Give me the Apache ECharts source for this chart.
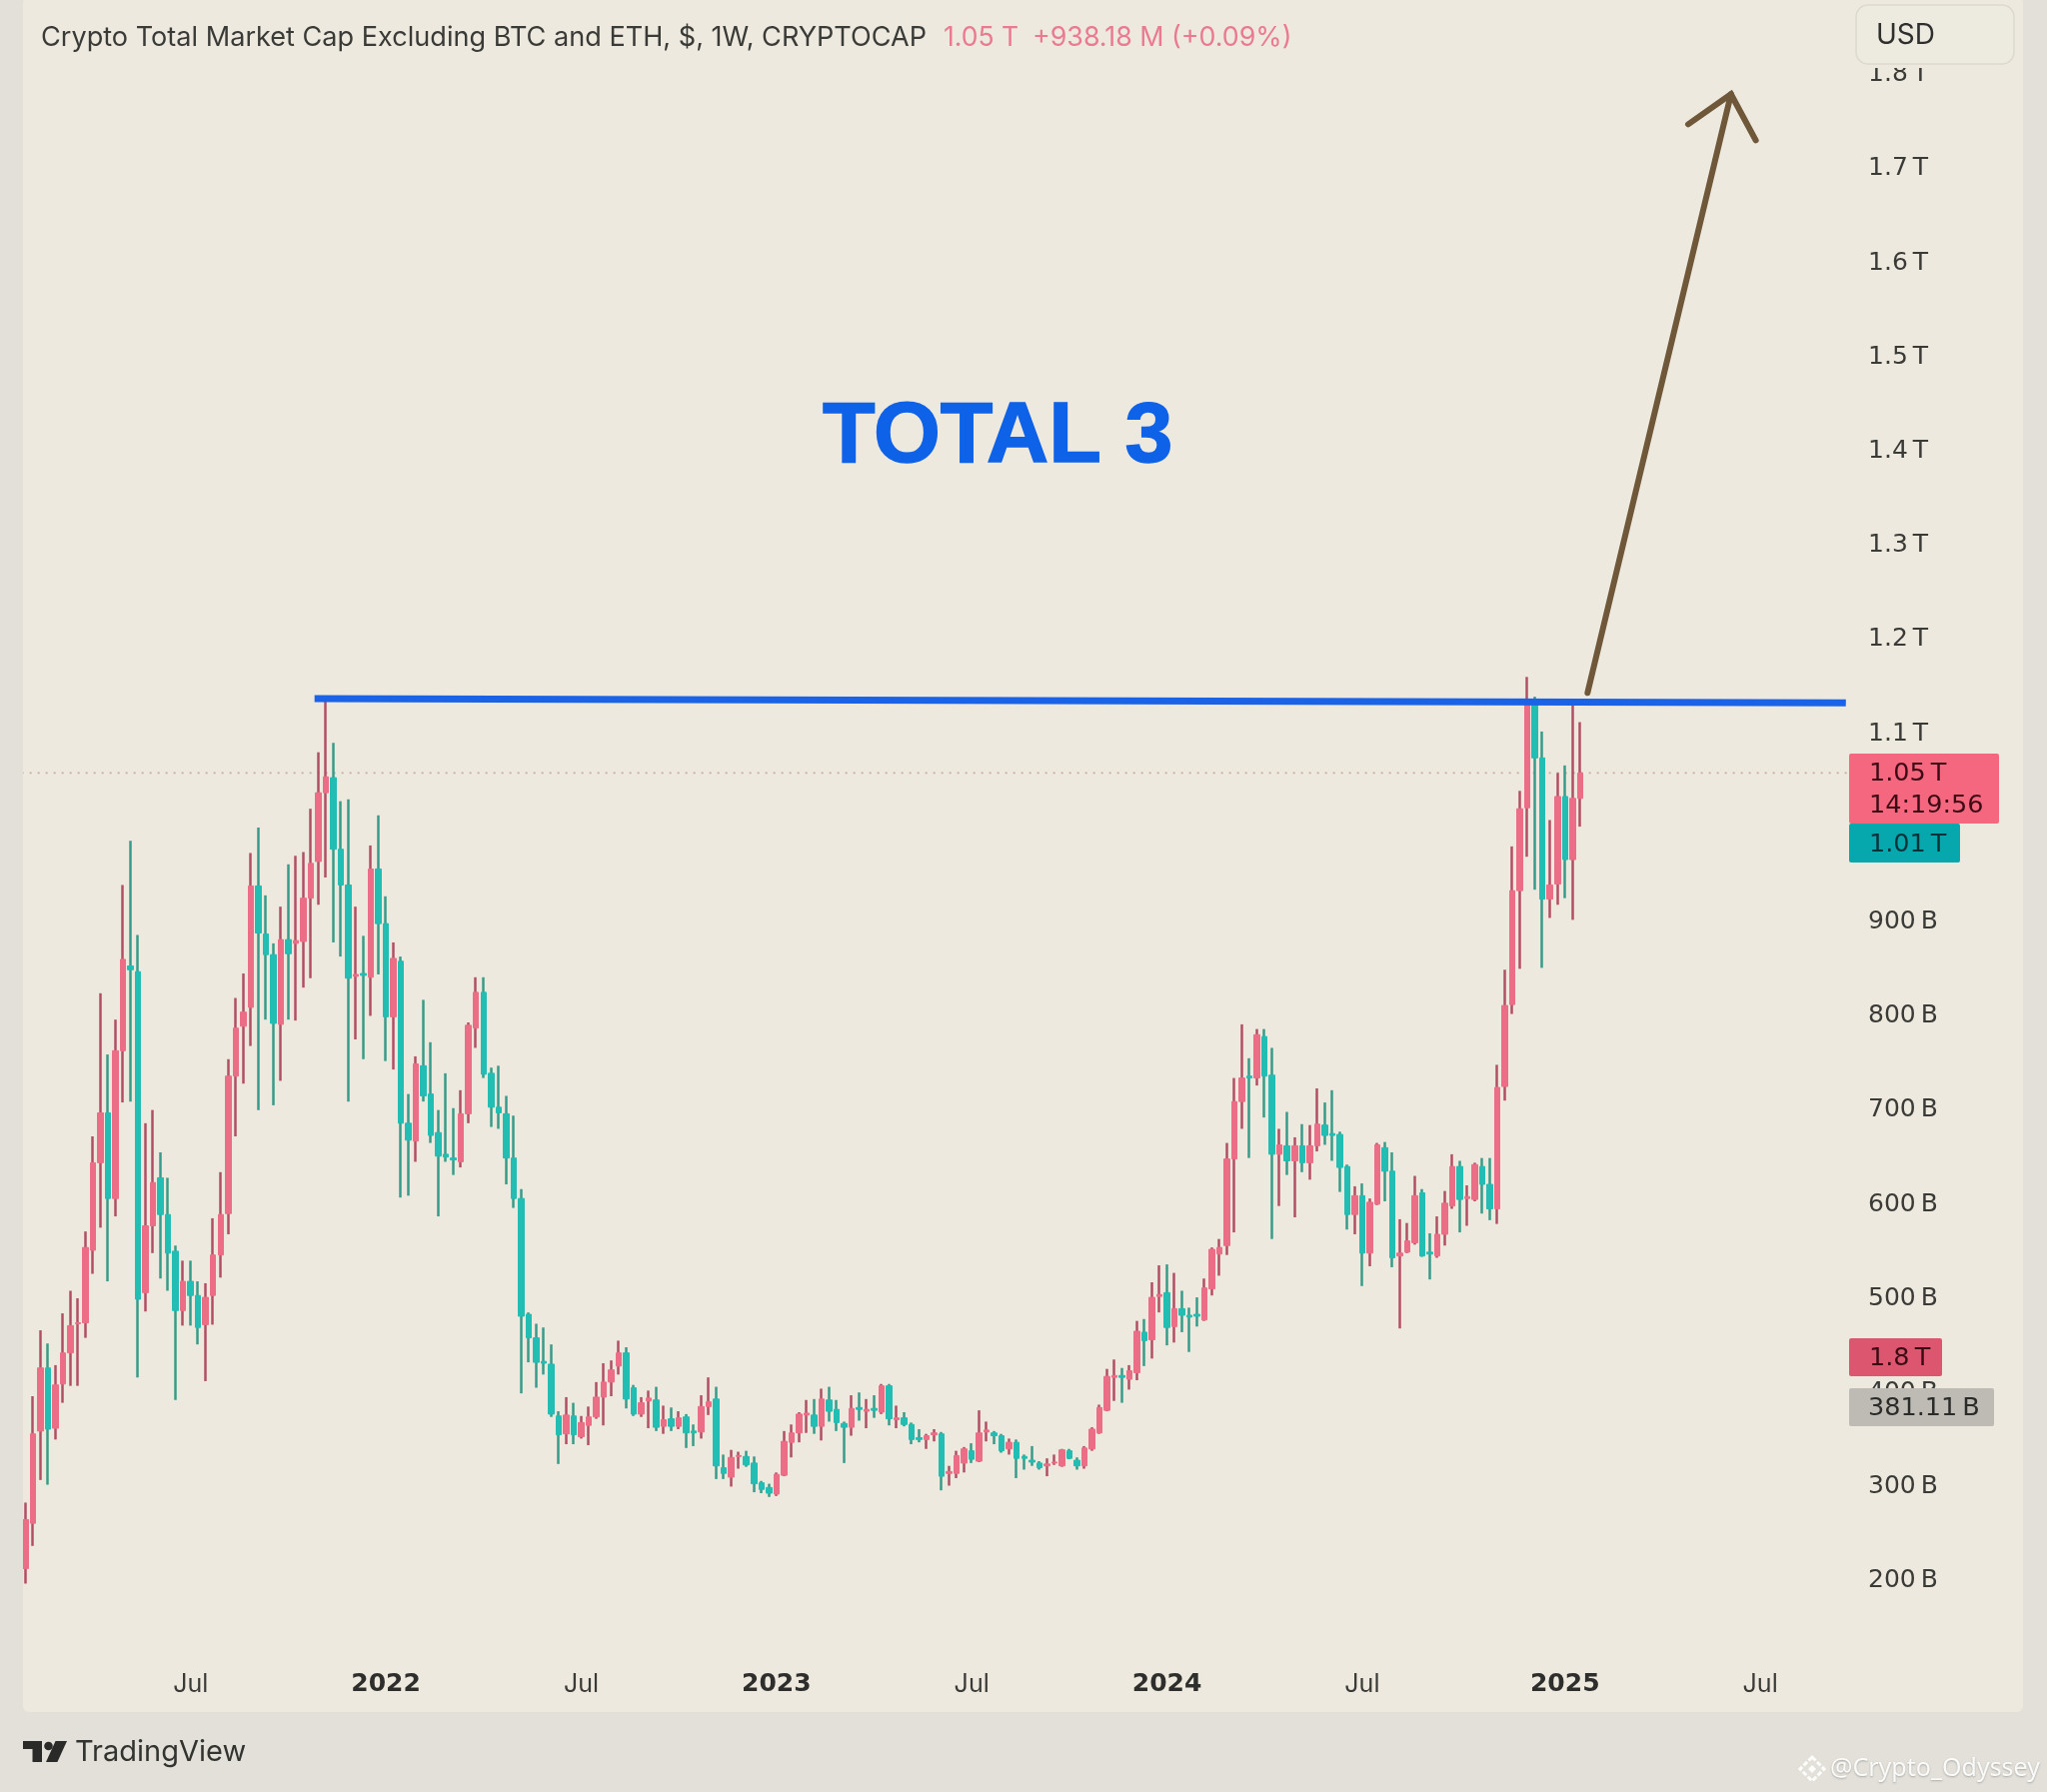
<!DOCTYPE html>
<html><head><meta charset="utf-8"><title>TOTAL 3</title>
<style>html,body{margin:0;padding:0;background:#e2e0d8}#c{width:2048px;height:1793px}</style>
<script src="https://cdn.jsdelivr.net/npm/echarts@6/dist/echarts.min.js"></script></head>
<body><div id="c"></div>
<script>
// Values are in billions of USD, one candle per week starting 2021-02-01
const opens=[210,258,356,423,359,406,439,470,471,548,641,694,603,760,850,844,503,574,625,586,547,484,515,500,469,500,543,587,733,786,806,935,884,862,788,878,874,876,922,961,1034,1050,974,936,839,842,838,953,895,796,855,683,664,744,714,673,650,646,642,693,784,822,736,700,693,646,603,480,455,430,427,372,353,372,350,362,371,392,408,425,439,402,374,388,389,361,369,361,371,356,355,382,390,317,307,329,329,322,301,296,289,309,344,354,373,373,361,389,379,364,360,381,377,380,376,404,368,370,363,349,347,352,353,311,311,322,335,324,355,354,351,337,344,329,325,322,319,322,319,335,325,319,337,354,378,413,415,411,418,461,453,499,503,467,486,479,480,474,507,544,553,645,706,733,731,775,734,650,659,643,659,641,659,681,672,671,637,586,606,545,597,657,632,542,546,556,609,546,542,565,595,637,603,602,637,618,592,722,809,930,1018,1133,1071,921,937,1030,963,1028];
const closes=[262,353,423,358,405,439,468,471,551,641,694,603,760,857,846,496,574,620,586,545,484,515,500,466,498,543,586,733,784,801,935,885,862,789,878,863,877,922,959,1034,1051,974,936,837,841,840,953,895,796,858,683,665,746,712,670,648,647,644,693,787,822,735,700,694,646,603,478,455,429,428,374,352,373,352,365,371,392,408,421,439,390,374,386,391,360,368,361,370,354,354,382,387,319,311,328,330,320,300,294,290,310,345,354,374,375,361,390,377,365,360,380,379,379,378,404,369,370,363,347,347,351,354,308,313,330,337,326,354,357,351,335,344,327,327,323,317,321,323,336,327,319,338,358,381,414,415,413,420,462,452,498,501,466,486,479,477,478,508,549,551,645,706,731,731,777,733,650,660,643,659,641,659,682,670,670,636,586,606,545,599,660,632,540,545,558,606,542,544,565,598,637,602,605,639,618,592,721,808,930,1017,1133,1071,921,936,1030,963,1028,1055];
const lows=[194,234,304,299,347,386,404,404,455,523,572,515,584,705,706,413,483,545,518,505,389,468,468,448,409,469,519,565,669,725,765,697,793,702,728,793,792,827,837,915,944,875,860,706,772,751,797,841,749,740,604,606,642,706,662,584,642,628,636,683,763,731,679,677,618,593,396,429,402,416,371,321,342,342,348,341,369,362,393,416,380,372,371,359,356,353,356,358,338,340,348,373,305,305,297,316,318,291,290,286,287,308,328,344,354,353,346,366,356,322,351,367,359,370,374,362,359,361,342,344,337,345,293,298,306,312,322,323,345,342,333,331,306,315,319,315,308,320,318,326,315,316,335,353,377,388,386,400,410,425,433,482,447,450,461,440,467,473,500,521,543,567,677,646,723,689,560,595,628,583,631,623,653,660,643,610,570,565,510,531,596,600,530,465,545,554,541,517,540,553,592,567,574,600,587,580,576,707,799,847,966,931,848,901,915,922,899,998];
const highs=[280,393,463,449,426,481,505,497,568,669,821,756,793,936,983,883,683,697,652,625,553,537,537,515,513,582,631,751,816,842,970,997,925,874,913,958,967,971,1017,1077,1135,1087,1025,1027,913,882,978,1010,924,875,860,714,754,814,769,697,736,699,718,790,838,838,742,744,712,691,613,482,470,466,448,377,392,386,372,382,408,428,431,452,445,405,392,399,403,383,381,377,374,363,394,413,403,331,336,334,335,329,303,300,312,356,363,376,389,390,401,403,389,366,394,397,390,394,406,406,383,376,365,358,353,358,355,319,335,339,343,378,366,356,353,348,347,331,340,324,327,331,337,337,328,340,360,384,422,432,423,426,473,475,514,532,533,524,505,487,498,518,551,560,662,731,788,752,783,783,763,677,695,668,682,681,720,705,718,674,639,616,619,603,662,663,652,581,577,627,613,566,584,611,650,643,617,641,646,646,745,846,977,1036,1157,1136,1099,1005,1055,1063,1134,1109];

const bandCount=244;
const xTickIndex=[22,48,74,100,126,152,178,205,231];
const xTickLabels=['Jul','2022','Jul','2023','Jul','2024','Jul','2025','Jul'];
const yTickValues=[200,300,400,500,600,700,800,900,1000,1100,1200,1300,1400,1500,1600,1700,1800];
const yTickLabels=['200\u2009B','300\u2009B','400\u2009B','500\u2009B','600\u2009B','700\u2009B','800\u2009B','900\u2009B','','1.1\u2009T','1.2\u2009T','1.3\u2009T','1.4\u2009T','1.5\u2009T','1.6\u2009T','1.7\u2009T','1.8\u2009T'];
const resistanceLine=[[38.5,1134],[242.4,1129.5]];
const arrowShaft=[[208,1140],[227.1,1776]];
const arrowHead=[[221.4,1744],[227.1,1776],[230.4,1727]];
const lastPriceLine=[[-0.5,1055],[243.5,1055]];

const categories=[];
for(let i=0;i<bandCount;i++){categories.push(new Date(Date.UTC(2021,1,1+7*i)).toISOString().slice(0,10));}
const wicks=opens.map((o,i)=>[o,closes[i],lows[i],highs[i]]);
const bodies=opens.map((o,i)=>[o,closes[i],Math.min(o,closes[i]),Math.max(o,closes[i])]);

const FONT='Inter, "Noto Sans", sans-serif';
const NUM='"DejaVu Sans", Inter, sans-serif';
const TXT='#3a3a37';
function label(x,y,text,size,color,extra){
  return {type:'text',z:120,silent:true,x:x,y:y,style:Object.assign({text:text,fontSize:size,fontFamily:FONT,fill:color,verticalAlign:'middle',align:'left'},extra||{})};
}
function box(x,y,w,h,color,r){
  return {type:'rect',z:110,silent:true,shape:{x:x,y:y,width:w,height:h,r:r||2},style:{fill:color}};
}
const elements=[
  box(23,0,2001,1713,'#eee9df',6), 
  box(0,0,23,1713,'#e2e0d8',0),
  box(23,0,1830,68,'#ede9df',0),
  box(1853,0,171,68,'#ede9df',0),
  {type:'rect',z:112,silent:true,shape:{x:1857,y:5,width:158,height:59,r:12},style:{fill:'#edeae0',stroke:'#dcd9cf',lineWidth:1.5}},
  label(1877,36,'USD',28,'#2f2f2d'),
  label(41,38,'Crypto Total Market Cap Excluding BTC and ETH, $, 1W, CRYPTOCAP',27.1,TXT),
  label(944,38,'1.05 T',26.5,'#ea7a90'),
  label(1033,38,'+938.18 M (+0.09%)',26.8,'#ea7a90'),
  label(823,438,'TOTAL 3',86,'#0e62e8',{fontFamily:'"Liberation Sans", Arial, sans-serif',fontWeight:'bold',stroke:'#0e62e8',lineWidth:1.5}),
  box(1850,754,150,70,'#f5667f'),
  label(1870,774,'1.05\u2009T',25.5,'#3c0c14',{fontFamily:NUM}),
  label(1870,806,'14:19:56',25.5,'#3c0c14',{fontFamily:NUM}),
  box(1850,824,111,39,'#07a8ad'),
  label(1870,845,'1.01\u2009T',25.5,'#08323a',{fontFamily:NUM}),
  box(1850,1339,93,38,'#dc5670'),
  label(1870,1359,'1.8\u2009T',25.5,'#3c0c14',{fontFamily:NUM}),
  box(1850,1389,145,38,'#bdbbb3'),
  label(1869,1409,'381.11\u2009B',25.5,'#2b2b2a',{fontFamily:NUM}),
  {type:'polygon',z:120,silent:true,shape:{points:[[23,1742],[42,1742],[42,1763],[32.5,1763],[32.5,1750],[23,1750]]},style:{fill:'#2a2a28'}},
  {type:'circle',z:120,silent:true,shape:{cx:48.5,cy:1747,r:4.3},style:{fill:'#2a2a28'}},
  {type:'polygon',z:120,silent:true,shape:{points:[[55.5,1742],[67,1742],[57.4,1763],[46,1763]]},style:{fill:'#2a2a28'}},
  label(75,1753,'TradingView',29,'#33332f'),
  {type:'polygon',z:120,silent:true,shape:{points:[[1813,1758],[1825,1770],[1813,1782],[1801,1770]]},style:{fill:'none',stroke:'rgba(255,255,255,0.9)',lineWidth:3,lineDash:[5,2]}},
  {type:'polygon',z:120,silent:true,shape:{points:[[1813,1766],[1817,1770],[1813,1774],[1809,1770]]},style:{fill:'rgba(255,255,255,0.9)'}},
  label(1831,1770,'@Crypto_Odyssey',25,'rgba(255,255,255,0.92)',{fontFamily:'"Noto Sans", sans-serif',textShadowColor:'rgba(90,90,90,0.45)',textShadowBlur:2,textShadowOffsetY:1})
];
elements[0].z=-10;

const chart=echarts.init(document.getElementById('c'),null,{renderer:'canvas'});
chart.setOption({
  animation:false,
  backgroundColor:'#e2e0d8',
  tooltip:{show:false},
  graphic:{elements:elements},
  grid:{left:21.64,top:71.6,width:bandCount*7.514,height:1601.4,containLabel:false},
  xAxis:[{
    type:'category',data:categories,boundaryGap:true,
    axisLine:{show:false},axisTick:{show:false},splitLine:{show:false},
    axisLabel:{
      margin:0,fontFamily:FONT,fontSize:25,color:'#3a3a37',
      interval:(i)=>xTickIndex.includes(i),
      formatter:(v,i)=>{const k=xTickIndex.indexOf(i);if(k<0)return '';const t=xTickLabels[k];return t==='Jul'?t:'{y|'+t+'}';},
      rich:{y:{fontWeight:700,fontSize:25,fontFamily:NUM,color:'#2e2e2c'}}
    }
  },{type:'value',min:-0.5,max:bandCount-0.5,show:false}],
  yAxis:{
    type:'value',position:'right',min:100,max:1800,interval:100,scale:true,
    axisLine:{show:false},axisTick:{show:false},splitLine:{show:false},
    axisLabel:{
      margin:14,fontFamily:NUM,fontSize:25,color:'#3a3a37',verticalAlign:'top',lineHeight:6,
      formatter:(v)=>{const k=yTickValues.indexOf(v);return k<0?'':yTickLabels[k];}
    }
  },
  series:[
    {type:'line',name:'Last price',xAxisIndex:1,data:lastPriceLine,showSymbol:false,silent:true,z:1,
      lineStyle:{color:'#c9aaa0',width:1.6,type:[2,6]}},
    {type:'candlestick',name:'Wicks',data:wicks,barWidth:1,z:3,silent:true,
      itemStyle:{color:'#b04f64',color0:'#389a89',borderColor:'#b04f64',borderColor0:'#389a89',borderWidth:2.5}},
    {type:'candlestick',name:'Crypto Total Market Cap Excluding BTC and ETH',data:bodies,barWidth:6,z:4,silent:true,
      itemStyle:{color:'#ec6e86',color0:'#22bdb3',borderColor:'#ec6e86',borderColor0:'#22bdb3',borderWidth:1}},
    {type:'line',name:'Resistance',xAxisIndex:1,data:resistanceLine,showSymbol:false,silent:true,z:5,
      lineStyle:{color:'#1a62e6',width:7}},
    {type:'line',name:'Arrow shaft',xAxisIndex:1,data:arrowShaft,showSymbol:false,silent:true,z:5,
      lineStyle:{color:'#6f5739',width:6,cap:'round'}},
    {type:'line',name:'Arrow head',xAxisIndex:1,data:arrowHead,showSymbol:false,silent:true,z:5,
      lineStyle:{color:'#6f5739',width:6,cap:'round',join:'miter'}}
  ]
});
</script></body></html>
